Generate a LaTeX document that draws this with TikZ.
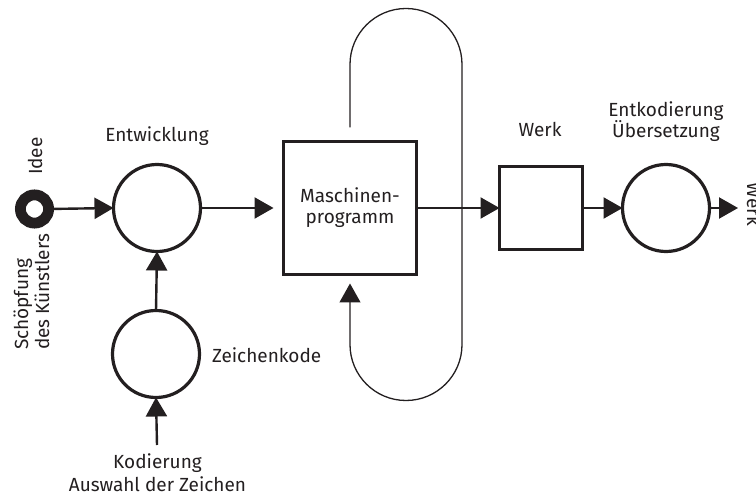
\documentclass[tikz,border=0pt]{standalone}
\usepackage{fontspec}
\setmainfont{Fira Sans}
\usetikzlibrary{arrows.meta}
\definecolor{ink}{HTML}{231F20}
\begin{document}
\begin{tikzpicture}[x=1pt,y=1pt,
  every node/.style={inner sep=0pt, outer sep=0pt},
  lbl/.style={font=\fontsize{19}{21}\selectfont, text=ink},
  circ/.style={circle, draw=ink, line width=3.2pt, minimum size=87pt},
  sq/.style={rectangle, draw=ink, line width=3.2pt},
  flow/.style={draw=ink, line width=2.4pt, -{Triangle[length=19pt,width=21pt]}},
  loopline/.style={draw=ink, line width=1.3pt}]
\useasboundingbox (0,0) rectangle (756,499);

% process nodes
\node[circle, draw=ink, line width=10.8pt, minimum size=28.2pt] (idee) at (34.5,290) {};
\node[circ] (entw) at (157,291) {};
\node[circ] (zk) at (156,145) {};
\node[sq, minimum size=133pt, lbl, align=center] (prog) at (350,291) {Maschinen-\\programm};
\node[sq, minimum size=83pt] (werk) at (541,291) {};
\node[circ] (entk) at (666,291) {};

% labels
\node[lbl, anchor=base] (entwlbl) at (157,357) {Entwicklung};
\node[lbl, anchor=base] (werklbl) at (540,362) {Werk};
\node[lbl, anchor=base] (entk1) at (666,382) {Entkodierung};
\node[lbl, anchor=base] (entk2) at (666,361) {Übersetzung};
\node[lbl, anchor=base west] (zklbl) at (212,137) {Zeichenkode};
\node[lbl, anchor=base] (kod1) at (157.5,31) {Kodierung};
\node[lbl, anchor=base] (kod2) at (157.5,7.5) {Auswahl der Zeichen};
\node[lbl, rotate=90, anchor=base west] (ideelbl) at (42,324) {Idee};
\node[lbl, rotate=90, anchor=base west] (sch1) at (28,149) {Schöpfung};
\node[lbl, rotate=90, anchor=base west] (sch2) at (49,149) {des Künstlers};
\node[lbl, rotate=-90, anchor=base west] (werkout) at (747,316) {Werk};

% free ends
\coordinate (kin) at (157,54);
\coordinate (out) at (738,291);
\coordinate (lpS) at ([yshift=14pt]prog.north);
\coordinate (lpE) at ([yshift=-9pt]prog.south);

% connectors
\draw[flow] (idee.east) -- (entw.west);
\draw[flow, shorten >=10pt] (entw.east) -- (prog.west);
\draw[flow] (zk.north) -- (entw.south);
\draw[flow] (kin) -- (zk.south);
\draw[flow] (prog.east) -- (werk.west);
\draw[flow] (werk.east) -- (entk.west);
\draw[flow] (entk.east) -- (out);

% feedback loop around the program box
\draw[loopline, -{Triangle[length=19pt,width=21pt]}]
  (lpS) -- ++(0,63)
  arc[start angle=180, end angle=0, radius=56pt]
  -- ++(0,-280)
  arc[start angle=0, end angle=-180, radius=56pt]
  -- (lpE);
\end{tikzpicture}
\end{document}
